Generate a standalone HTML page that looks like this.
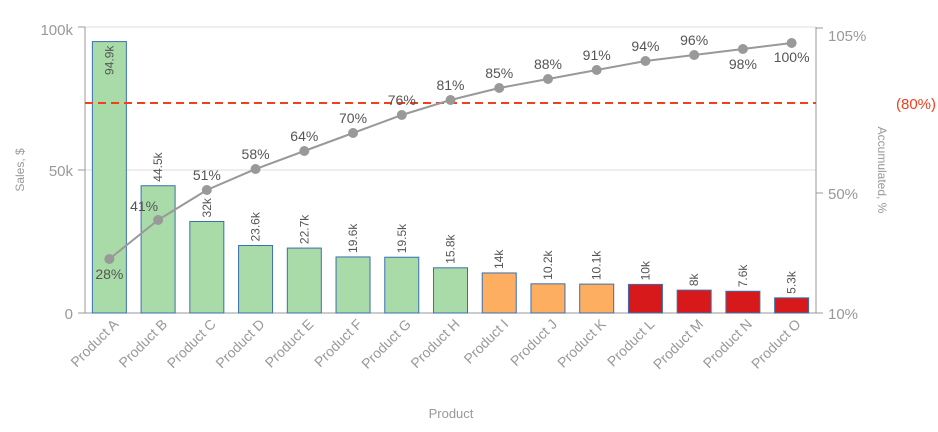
<!DOCTYPE html>
<html><head><meta charset="utf-8"><style>
body{margin:0;background:#fff;font-family:"Liberation Sans",sans-serif}
svg text{font-family:"Liberation Sans",sans-serif}
</style></head><body>
<svg id="chart" width="938" height="427" xmlns="http://www.w3.org/2000/svg"></svg>
<script>
const categories=["Product A","Product B","Product C","Product D","Product E","Product F","Product G","Product H","Product I","Product J","Product K","Product L","Product M","Product N","Product O"];
const sales=[94900,44500,32000,23600,22700,19600,19500,15800,14000,10200,10100,10000,8000,7600,5300];
const salesLabels=["94.9k","44.5k","32k","23.6k","22.7k","19.6k","19.5k","15.8k","14k","10.2k","10.1k","10k","8k","7.6k","5.3k"];
const cumulative=[28,41,51,58,64,70,76,81,85,88,91,94,96,98,100];
const groups=["A","A","A","A","A","A","A","A","B","B","B","C","C","C","C"];
const leftTicks=[0,50000,100000];
const leftTickLabels=["0","50k","100k"];
const rightTicks=[10,50,105];
const rightTickLabels=["10%","50%","105%"];
const threshold=80;

const NS="http://www.w3.org/2000/svg";
const svg=document.getElementById('chart');
const X0=85,X1=816,Y0=313;
const band=(X1-X0)/categories.length;
const xC=i=>X0+band*(i+0.5);
const yL=v=>Y0-v*(Y0-27)/100000;
const yR=v=>Y0-(v-10)*3;
function el(t,a,txt){const e=document.createElementNS(NS,t);for(const k in a)e.setAttribute(k,a[k]);if(txt!==undefined)e.textContent=txt;svg.appendChild(e);return e;}
const fills={A:"#a8dba8",B:"#fdae61",C:"#d7191c"};

leftTicks.forEach((t,i)=>{
  const g=el('line',{x1:X0,x2:X1,y1:yL(t),y2:yL(t),stroke:i==0?"#999":"#ddd","stroke-width":1});
  
  
  const tk=el('line',{x1:X0-7,x2:X0,y1:yL(t),y2:yL(t),stroke:"#999"});
  
  
  const l=el('text',{x:X0-12,y:yL(t)+6+(i==2?2:0),"text-anchor":"end","font-size":15,fill:"#999"},leftTickLabels[i]);
  
  
});
rightTicks.forEach((t,i)=>{
  const tk=el('line',{x1:X1,x2:X1+7,y1:yR(t),y2:yR(t),stroke:"#999"});
  
  
  const l=el('text',{x:X1+12,y:yR(t)+6+(i==2?7:0),"font-size":15,fill:"#999"},rightTickLabels[i]);
  
  
});
const la=el('line',{x1:X0,x2:X0,y1:27,y2:Y0,stroke:"#999"});


const ra=el('line',{x1:X1,x2:X1,y1:27,y2:Y0,stroke:"#999"});



sales.forEach((v,i)=>{
  const w=34,x=xC(i)-w/2,y=yL(v);
  const b=el('rect',{x:x,y:y,width:w,height:Y0-y,fill:fills[groups[i]],stroke:"#3a6fb0","stroke-width":1});
  
  
  const inside=i==0;
  const ty=inside?y+4:y-4;
  const t=el('text',{x:0,y:0,"font-size":12,fill:"#555","text-anchor":inside?"end":"start",transform:`translate(${xC(i)+4},${ty}) rotate(-90)`},salesLabels[i]);
  
  
  const xl=el('text',{x:0,y:0,"font-size":14,fill:"#999","text-anchor":"end",transform:`translate(${xC(i)+10},${Y0+12}) rotate(-45)`},categories[i]);
  
  
});

const th=el('line',{x1:X0,x2:X1,y1:yR(threshold),y2:yR(threshold),stroke:"#f0401c","stroke-width":2,"stroke-dasharray":"8,5"});


const tl=el('text',{x:936,y:yR(threshold)+6,"text-anchor":"end","font-size":15,fill:"#f0401c"},"("+threshold+"%)");



const pl=el('polyline',{points:cumulative.map((v,i)=>xC(i)+","+yR(v)).join(" "),fill:"none",stroke:"#999","stroke-width":2});


cumulative.forEach((v,i)=>{
  const c=el('circle',{cx:xC(i),cy:yR(v),r:5,fill:"#999"});
  
  
  let dx=0,dy=-10,anchor="middle";
  if(i==0){dy=20;}
  else if(i==1){dx=-14;dy=-9;}
  else if(i==13){dy=20;}
  else if(i==14){dx=0;dy=19;}
  const t=el('text',{x:xC(i)+dx,y:yR(v)+dy,"text-anchor":anchor,"font-size":14,fill:"#555"},v+"%");
  
  
});

const yt=el('text',{x:0,y:0,"font-size":12,fill:"#999","text-anchor":"middle",transform:"translate(24,170) rotate(-90)"},"Sales, $");


const yt2=el('text',{x:0,y:0,"font-size":12,fill:"#999","text-anchor":"middle",transform:"translate(878,170) rotate(90)"},"Accumulated, %");


const xt=el('text',{x:451,y:418,"font-size":13,fill:"#999","text-anchor":"middle"},"Product");


</script>
</body></html>
